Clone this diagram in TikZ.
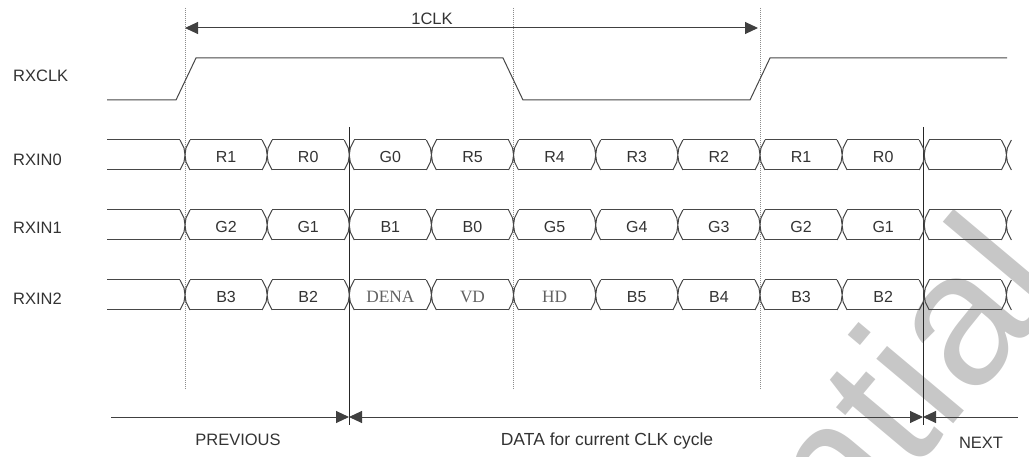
\documentclass[tikz,border=0pt]{standalone}
\usepackage{fontspec}
\setmainfont{Liberation Sans}
\newfontfamily\lblfont{Liberation Sans}
\newfontfamily\serfont{Liberation Serif}
\newfontfamily\wmfont{Liberation Sans}
\usetikzlibrary{arrows.meta}
\newcommand\sigrow[2]{%
  \draw[sig] (107,#1) -- (180,#1) (107,#2) -- (180,#2);
  \foreach \a in {0,...,9}{
    \draw[sig] ({185+82.14*\a+5},#1) -- ({185+82.14*(\a+1)-5},#1)
               ({185+82.14*\a+5},#2) -- ({185+82.14*(\a+1)-5},#2);}
  \foreach \a in {0,...,10}{
    \pgfmathsetmacro\cx{185+82.14*\a}
    \draw[sig] (\cx-5,#1) -- (\cx-1,#1+8) -- (\cx+1,#2-8) -- (\cx+5,#2)
               (\cx-5,#2) -- (\cx-1,#2-8) -- (\cx+1,#1+8) -- (\cx+5,#1);}
}
\begin{document}
\begin{tikzpicture}[x=1pt,y=-1pt,
  sig/.style={line width=1pt, draw=black!72},
  dotv/.style={draw=black!45, line width=0.8pt, dash pattern=on 1pt off 1pt},
  solidv/.style={draw=black!85, line width=1pt},
  lbl/.style={font=\lblfont\fontsize{16}{18}\selectfont, text=black!80, inner sep=0},
  big/.style={font=\lblfont\fontsize{16.5}{18}\selectfont, text=black!80, inner sep=0},
  ser/.style={font=\serfont\fontsize{17.3}{19}\selectfont, text=black!62, inner sep=0},
  arr/.style={draw=black!75, line width=1pt, -{Triangle[length=13pt,width=12pt]}},
  wm/.style={font=\wmfont\fontsize{190}{190}\selectfont, text=black!22, inner sep=0, rotate=50}]
\useasboundingbox (0,0) rectangle (1029,457);
\clip (0,0) rectangle (1029,457);
% watermark
\node[wm, anchor=base east] (wmark) at (1068,288) {Confidential};
% labels
\node[big, anchor=west] (lclk) at (13,75.5) {RXCLK};
\node[big, anchor=west] (l0) at (13,160) {RXIN0};
\node[big, anchor=west] (l1) at (13,228) {RXIN1};
\node[big, anchor=west] (l2) at (13,299) {RXIN2};
% dotted verticals
\coordinate (d1t) at (185,8);  \coordinate (d1b) at (185,390);
\coordinate (d2t) at (513,8);  \coordinate (d2b) at (513,390);
\coordinate (d3t) at (760,8);  \coordinate (d3b) at (760,390);
\draw[dotv] (d1t) -- (d1b);
\draw[dotv] (d2t) -- (d2b);
\draw[dotv] (d3t) -- (d3b);
% solid verticals
\coordinate (s1t) at (349,127); \coordinate (s1b) at (349,425);
\coordinate (s2t) at (923,127); \coordinate (s2b) at (923,425);
\draw[solidv] (s1t) -- (s1b);
\draw[solidv] (s2t) -- (s2b);
% 1CLK arrow
\coordinate (ta) at (185,28); \coordinate (tb) at (758,28);
\draw[arr, {Triangle[length=13pt,width=12pt]}-{Triangle[length=13pt,width=12pt]}] (ta) -- (tb);
\node[big, anchor=base] (clk1) at (432,25) {1CLK};
% clock
\draw[sig] (107,100) -- (176,100) -- (196,58) -- (503,58) -- (523,100) -- (750,100) -- (770,58) -- (1007,58);
% data rows
\sigrow{140}{170}
\sigrow{210}{240}
\sigrow{280}{310}
\foreach \t [count=\i from 0] in {R1,R0,G0,R5,R4,R3,R2,R1,R0}
  \node[lbl] (a\i) at ({185+82.14*(\i+0.5)},157) {\t};
\foreach \t [count=\i from 0] in {G2,G1,B1,B0,G5,G4,G3,G2,G1}
  \node[lbl] (b\i) at ({185+82.14*(\i+0.5)},227) {\t};
\foreach \t [count=\i from 0] in {B3,B2}
  \node[lbl] (c\i) at ({185+82.14*(\i+0.5)},297) {\t};
\foreach \t [count=\i from 2] in {DENA,VD,HD}
  \node[ser] (c\i) at ({185+82.14*(\i+0.5)},297) {\t};
\foreach \t [count=\i from 5] in {B5,B4,B3,B2}
  \node[lbl] (c\i) at ({185+82.14*(\i+0.5)},297) {\t};
% bottom arrows
\coordinate (p0) at (111,417);
\coordinate (p1) at (349,417);
\coordinate (p2) at (923,417);
\coordinate (p3) at (1018,417);
\draw[arr] (p0) -- (p1);
\draw[arr, {Triangle[length=13pt,width=12pt]}-{Triangle[length=13pt,width=12pt]}] (p1) -- (p2);
\draw[arr, {Triangle[length=13pt,width=12pt]}-] (p2) -- (p3);
\node[big] (prev) at (238,440) {PREVIOUS};
\node[big, font=\lblfont\fontsize{17.5}{19}\selectfont] (cur) at (607,440.5) {DATA for current CLK cycle};
\node[big] (next) at (981,443) {NEXT};
\end{tikzpicture}
\end{document}
